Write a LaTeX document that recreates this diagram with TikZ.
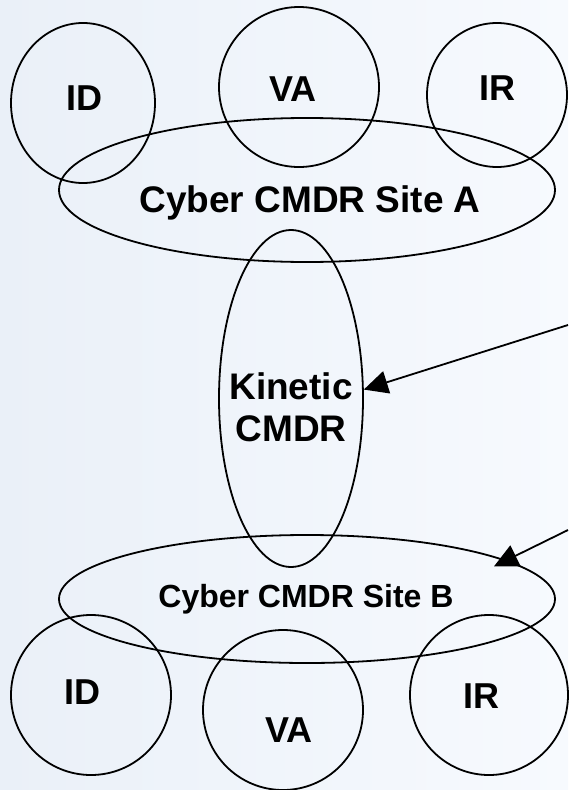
\documentclass[tikz,border=0pt]{standalone}
\usepackage{fontspec}
\setmainfont{Liberation Sans}
\usepackage{tikz}
\usetikzlibrary{shapes.geometric}
\usetikzlibrary{arrows.meta}
\definecolor{bgleft}{RGB}{234,240,248}
\definecolor{bgright}{RGB}{247,250,254}
\tikzset{
  ring/.style={ellipse, draw, line width=1.8pt, inner sep=0pt, label distance=0pt},
  lbl/.style={font=\bfseries\fontsize{36}{42}\selectfont, inner sep=0pt},
  sitelbl/.style={font=\bfseries\fontsize{37}{42}\selectfont, inner sep=0pt, align=center},
  arr/.style={-{Triangle[length=24pt,width=23pt]}, line width=1.8pt},
}

\begin{document}
\begin{tikzpicture}[x=1pt, y=-1pt]
        \useasboundingbox (0,0) rectangle (568,790);%
        \shade[left color=bgleft, right color=bgright] (0,0) rectangle (568,790);%
        % site A and its cells
        \node[ring, minimum width=144pt, minimum height=160pt, label={[lbl, xshift=1pt, yshift=5pt]center:ID}] (idA) at (83,103) {};%
        \node[ring, minimum width=160pt, minimum height=160pt, label={[lbl, xshift=-6pt, yshift=-2pt]center:VA}] (vaA) at (299,87) {};%
        \node[ring, minimum width=140pt, minimum height=144pt, label={[lbl, yshift=7pt]center:IR}] (irA) at (497,95) {};%
        \node[ring, minimum width=496pt, minimum height=144pt, label={[sitelbl, xshift=3pt, yshift=-13pt]center:Cyber CMDR Site A}] (siteA) at (307,190) {};%
        % kinetic
        \node[ring, minimum width=144pt, minimum height=337pt, label={[sitelbl, yshift=-9pt]center:Kinetic\\CMDR}] (kinetic) at (291,398.5) {};%
        % site B and its cells
        \node[ring, minimum width=496pt, minimum height=128pt, label={[lbl, font=\bfseries\fontsize{32}{38}\selectfont, xshift=-1pt]center:Cyber CMDR Site B}] (siteB) at (307,599) {};%
        \node[ring, minimum width=160pt, minimum height=160pt, label={[lbl, xshift=-9pt, yshift=3pt]center:ID}] (idB) at (91,695) {};%
        \node[ring, minimum width=160pt, minimum height=160pt, label={[lbl, xshift=6pt, yshift=-20pt]center:VA}] (vaB) at (283,710) {};%
        \node[ring, minimum width=158pt, minimum height=160pt, label={[lbl, xshift=-8pt, yshift=-1pt]center:IR}] (irB) at (489,695) {};%
        % arrows coming in from the right
        \coordinate (srcK) at (568,325);%
        \coordinate (srcB) at (568,530);%
        \draw[arr] (srcK) -- (kinetic.7); %
        \draw[arr, shorten >=-14pt] (srcB) -- (siteB.11); %
      \end{tikzpicture}
\end{document}
